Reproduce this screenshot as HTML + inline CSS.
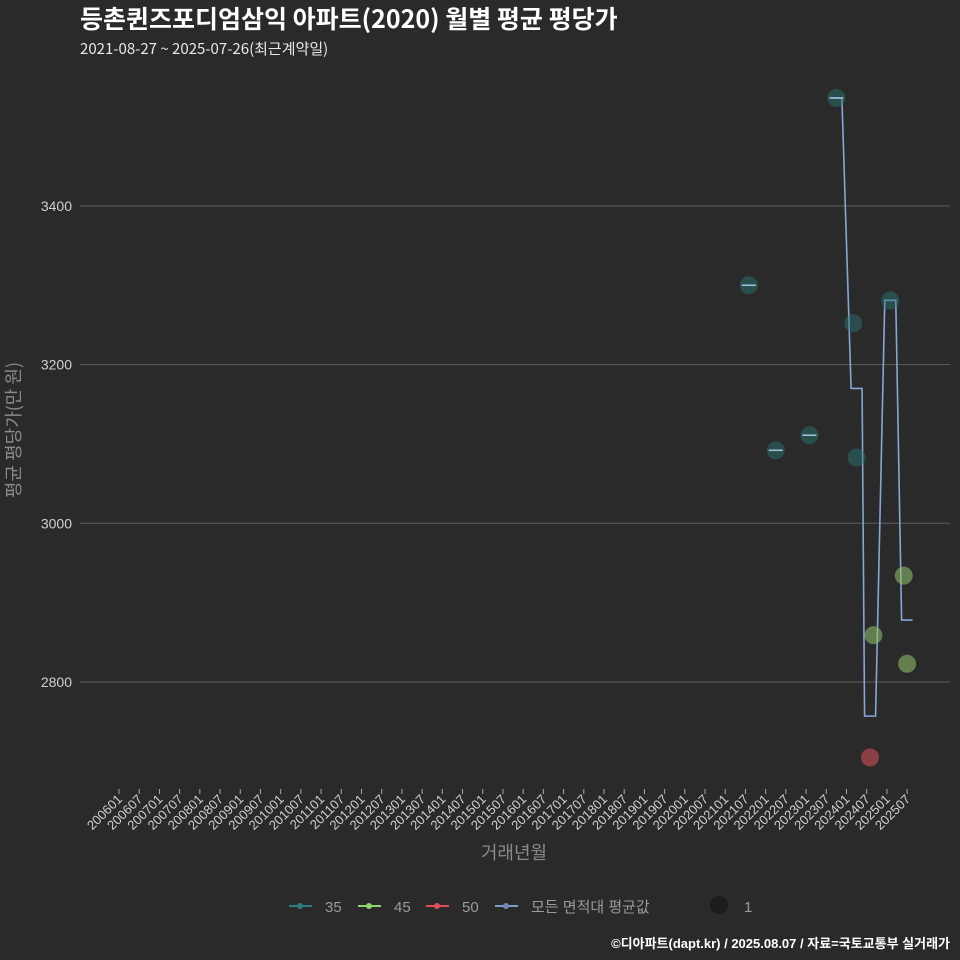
<!DOCTYPE html>
<html><head><meta charset="utf-8"><style>
body{margin:0;background:#2a2a2a;}
svg{display:block;font-family:"Liberation Sans","Noto Sans CJK KR",sans-serif;}
</style></head><body>
<svg id="c" width="960" height="960" viewBox="0 0 960 960">
<rect width="960" height="960" fill="#2a2a2a"/>
<text x="80" y="28" font-size="25" font-weight="bold" fill="#ffffff" style="font-family:'Noto Sans CJK KR',sans-serif">등촌퀸즈포디엄삼익 아파트(2020) 월별 평균 평당가</text>
<text x="80" y="54" font-size="15" fill="#e8e8e8" style="font-family:'Noto Sans CJK KR',sans-serif">2021-08-27 ~ 2025-07-26(최근계약일)</text>
<g id="grid"></g>
<g id="yt"></g>
<g id="xt"></g>
<text transform="translate(20,430) rotate(-90)" text-anchor="middle" font-size="18" fill="#8a8a8a" style="font-family:'Noto Sans CJK KR',sans-serif">평균 평당가(만 원)</text>
<text x="514" y="859" text-anchor="middle" font-size="18" fill="#8a8a8a" style="font-family:'Noto Sans CJK KR',sans-serif">거래년월</text>
<g id="avg"></g>
<g id="pts"></g>
<g>
 <g><line x1="289" y1="906" x2="312" y2="906" stroke="#2a7f7c" stroke-width="2"/><circle cx="300" cy="906" r="3" fill="#2a7f7c"/><text x="325" y="912" font-size="15" fill="#9a9a9a">35</text></g>
 <g><line x1="358" y1="906" x2="381" y2="906" stroke="#8ed56a" stroke-width="2"/><circle cx="369" cy="906" r="3" fill="#8ed56a"/><text x="394" y="912" font-size="15" fill="#9a9a9a">45</text></g>
 <g><line x1="426" y1="906" x2="449" y2="906" stroke="#d9505a" stroke-width="2"/><circle cx="437" cy="906" r="3" fill="#d9505a"/><text x="462" y="912" font-size="15" fill="#9a9a9a">50</text></g>
 <g><line x1="495" y1="906" x2="518" y2="906" stroke="#7f9ccc" stroke-width="2"/><circle cx="506" cy="906" r="3" fill="#6f88b8"/><text x="531" y="912" font-size="15" fill="#9a9a9a">모든 면적대 평균값</text></g>
 <g><circle cx="719" cy="905" r="9" fill="#1c1c1c"/><text x="744" y="912" font-size="15" fill="#9a9a9a">1</text></g>
</g>
<text x="950" y="948" text-anchor="end" font-size="13" font-weight="bold" fill="#ffffff">©디아파트(dapt.kr) / 2025.08.07 / 자료=국토교통부 실거래가</text>
</svg>
<script>
const yTicks=[2800,3000,3200,3400];
const s35Months=["2021-08","2022-04","2023-02","2023-10","2024-03","2024-04","2025-02"];
const s35Values=[3300,3092,3111,3536,3252,3083,3281];
const s45Months=["2024-09","2025-06","2025-07"];
const s45Values=[2859,2934,2823];
const s50Months=["2024-08"];
const s50Values=[2705];
const avgMonths=["2023-10","2024-04","2024-08","2025-02","2025-07"];
const avgValues=[3536,3170,2757,3281,2878];
const dashMonths=["2021-08","2022-04","2023-02","2023-10"];
const dashValues=[3300,3092,3111,3536];

const NS="http://www.w3.org/2000/svg";
function mi(m){const [y,mo]=m.split("-").map(Number);return (y-2006)*12+(mo-1);}
function X(m){return 119+mi(m)*3.368;}
function Y(v){return 682-(v-2800)*0.7935;}
function mk(t,a,p){const e=document.createElementNS(NS,t);for(const k in a)e.setAttribute(k,a[k]);p.appendChild(e);return e;}
const grid=document.getElementById("grid"),yt=document.getElementById("yt"),xt=document.getElementById("xt");
yTicks.forEach(v=>{
 const l=mk("line",{x1:80,x2:950,y1:Y(v),y2:Y(v),stroke:"#5e5e5e","stroke-width":1},grid);
 
 
 const t=mk("text",{x:72,y:Y(v)+5,"text-anchor":"end","font-size":14,fill:"#d0d0d0"},yt);
 t.textContent=v;
 
 
});
for(let y=2006;y<=2025;y++){for(const mo of ["01","07"]){
 const m=y+"-"+mo,x=X(m);
 const tk=mk("line",{x1:x,x2:x,y1:789,y2:794,stroke:"#aaa"},xt);
 
 
 const t=mk("text",{transform:`translate(${x+4},${800}) rotate(-45)`,"text-anchor":"end","font-size":13,fill:"#d0d0d0"},xt);
 t.textContent=y+mo;
 
 
}}
const avg=document.getElementById("avg");
let pts=[];
avgMonths.forEach((m,i)=>{const x=X(m),y=Y(avgValues[i]);pts.push((x-5.5)+","+y,(x+5.5)+","+y);});
const pl=mk("polyline",{points:pts.join(" "),fill:"none",stroke:"#86a6d6","stroke-width":1.6},avg);


const pg=document.getElementById("pts");
function series(ms,vs,col,op,name){ms.forEach((m,i)=>{
 const c=mk("circle",{cx:X(m),cy:Y(vs[i]),r:9,fill:col,"fill-opacity":op},pg);
 
 
});}
series(s35Months,s35Values,"#2a7a75",0.45,"point-35");
series(s45Months,s45Values,"#8fc46a",0.55,"point-45");
series(s50Months,s50Values,"#d9505a",0.55,"point-50");
dashMonths.forEach((m,i)=>{
 const d=mk("line",{x1:X(m)-7,x2:X(m)+7,y1:Y(dashValues[i]),y2:Y(dashValues[i]),stroke:"#9ec0e0","stroke-width":1.6},pg);
 
 
});
</script>
</body></html>
